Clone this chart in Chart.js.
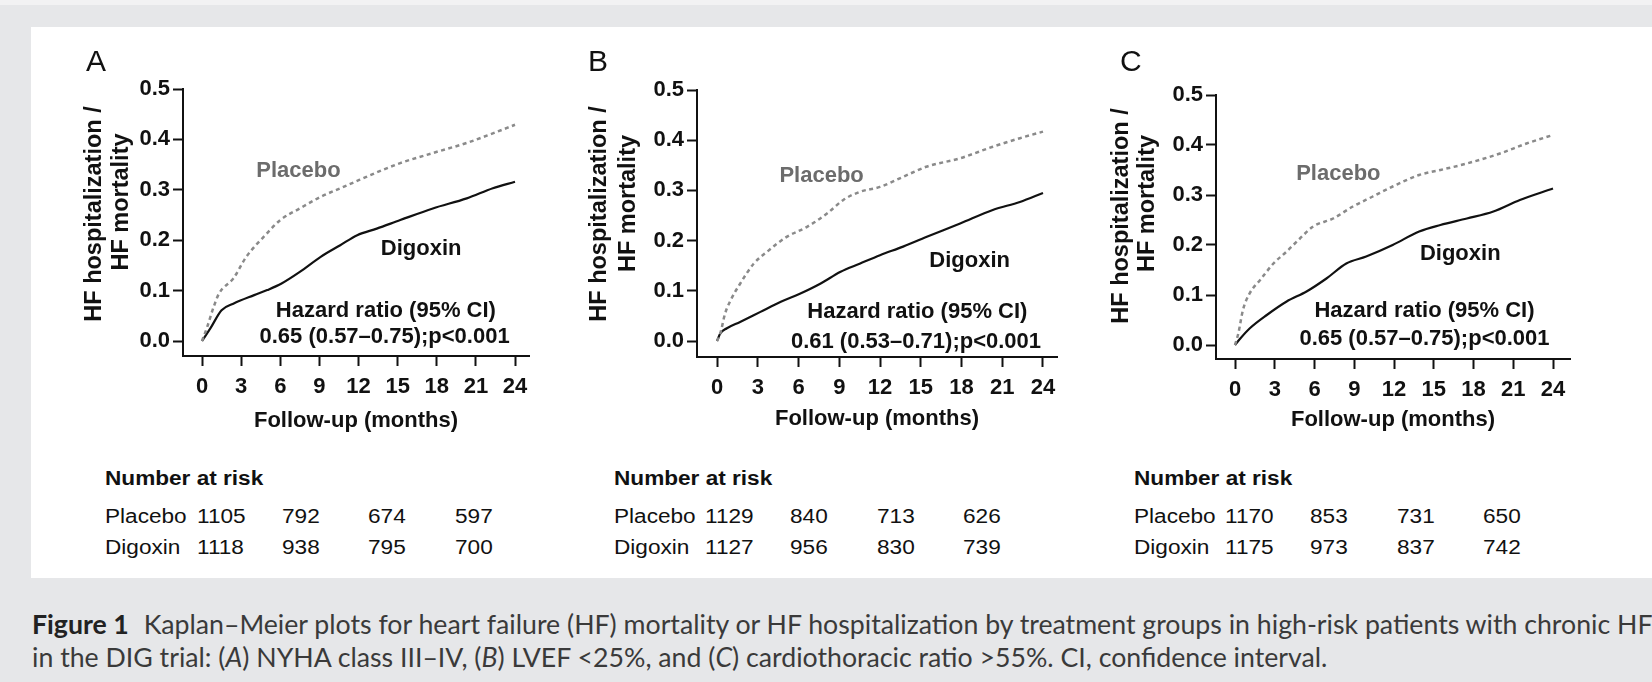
<!DOCTYPE html>
<html lang="en">
<head>
<meta charset="utf-8">
<title>DIG trial - Kaplan-Meier</title>
<script src="https://cdn.jsdelivr.net/npm/chart.js@4.4.1/dist/chart.umd.min.js"></script>
<style>
  html, body { margin: 0; padding: 0; }
  body { position: relative; width: 1652px; height: 682px; overflow: hidden; background: #e6e7e9; font-family: "Liberation Sans", Arial, sans-serif; }
  #strip { position: absolute; left: 0; top: 0; width: 1652px; height: 5px; background: #f2f2f3; }
  #panel { position: absolute; left: 31px; top: 27px; width: 1621px; height: 551px; background: #fff; }
  canvas { position: absolute; }
  .letter { position: absolute; font-size: 30px; line-height: 30px; color: #111; }
  .risk { position: absolute; font-size: 20px; line-height: 20px; color: #111; white-space: nowrap; transform: scaleX(1.13); transform-origin: 0 0; }
  .risk.head { font-weight: bold; }
  #caption { position: absolute; left: 32px; top: 608px; font-family: Lato, "Open Sans", sans-serif; font-size: 26.7px; line-height: 33px; color: #3a3a3a; white-space: nowrap; }
  #caption b { color: #222; margin-right: 8px; }
</style>
</head>
<body>
<div id="strip"></div>
<div id="panel"></div>
<canvas id="chartA"></canvas>
<canvas id="chartB"></canvas>
<canvas id="chartC"></canvas>
<div id="caption"><b>Figure 1</b> Kaplan–Meier plots for heart failure (HF) mortality or HF hospitalization by treatment groups in high-risk patients with chronic HF<br>in the DIG trial: (<i>A</i>) NYHA class III–IV, (<i>B</i>) LVEF &lt;25%, and (<i>C</i>) cardiothoracic ratio &gt;55%. CI, confidence interval.</div>
<script>
// ======================
// Datos
// ======================
const xTicks = [0, 3, 6, 9, 12, 15, 18, 21, 24];
const yTicks = [0, 0.1, 0.2, 0.3, 0.4, 0.5];

// Panel A: NYHA III-IV
const monthsPlaceboA = [0, 0.4, 0.9, 1.3, 2.4, 3.4, 5.0, 6.0, 7.5, 9.1, 10.6, 12.1, 13.9, 15.2, 17.7, 20.3, 22.3, 24];
const placeboA = [0, 0.028, 0.068, 0.094, 0.124, 0.167, 0.214, 0.240, 0.263, 0.286, 0.303, 0.320, 0.340, 0.353, 0.373, 0.393, 0.412, 0.429];
const monthsDigoxinA = [0, 0.64, 1.5, 2.4, 4.0, 5.0, 6.1, 7.5, 9.1, 10.6, 11.9, 13.4, 15.2, 17.7, 20.3, 22.3, 24];
const digoxinA = [0, 0.025, 0.061, 0.074, 0.091, 0.101, 0.114, 0.137, 0.167, 0.190, 0.210, 0.223, 0.240, 0.263, 0.283, 0.303, 0.316];

// Panel B: LVEF < 25%
const monthsPlaceboB = [0, 0.24, 0.6, 1.0, 1.7, 2.7, 3.7, 5.1, 6.6, 8.1, 9.3, 10.5, 12.0, 13.7, 15.4, 17.9, 20.3, 22.3, 24];
const placeboB = [0, 0.015, 0.055, 0.081, 0.114, 0.154, 0.178, 0.207, 0.227, 0.254, 0.281, 0.297, 0.307, 0.327, 0.347, 0.364, 0.387, 0.404, 0.417];
const monthsDigoxinB = [0, 0.24, 0.7, 1.7, 3.2, 4.7, 6.1, 7.6, 9.1, 10.5, 12.0, 13.7, 15.4, 17.9, 20.3, 22.3, 24];
const digoxinB = [0, 0.015, 0.025, 0.038, 0.058, 0.078, 0.094, 0.114, 0.138, 0.154, 0.171, 0.188, 0.207, 0.234, 0.261, 0.277, 0.295];

// Panel C: cardiothoracic ratio > 55%
const monthsPlaceboC = [0, 0.25, 0.6, 1.1, 1.9, 2.9, 3.9, 4.9, 5.9, 7.4, 8.9, 10.4, 11.9, 13.9, 15.5, 17.5, 20.0, 22.0, 24];
const placeboC = [0, 0.023, 0.07, 0.103, 0.13, 0.163, 0.187, 0.213, 0.237, 0.253, 0.277, 0.297, 0.317, 0.34, 0.35, 0.363, 0.383, 0.403, 0.42];
const monthsDigoxinC = [0, 0.4, 1.1, 2.4, 3.9, 5.4, 6.9, 8.4, 9.9, 11.9, 13.9, 15.5, 17.5, 19.5, 21.5, 24];
const digoxinC = [0, 0.013, 0.033, 0.06, 0.087, 0.107, 0.133, 0.163, 0.177, 0.20, 0.227, 0.24, 0.253, 0.267, 0.29, 0.313];

// Hazard ratios
const hrA = "0.65 (0.57–0.75);p<0.001";
const hrB = "0.61 (0.53–0.71);p<0.001";
const hrC = "0.65 (0.57–0.75);p<0.001";

// Number at risk
const riskPlaceboA = [1105, 792, 674, 597];
const riskDigoxinA = [1118, 938, 795, 700];
const riskPlaceboB = [1129, 840, 713, 626];
const riskDigoxinB = [1127, 956, 830, 739];
const riskPlaceboC = [1170, 853, 731, 650];
const riskDigoxinC = [1175, 973, 837, 742];

// ======================
// Geometría de cada panel (px de la página)
// ======================
const FONT = "'Liberation Sans', Arial, sans-serif";
const INK = "#111";
const GREY = "#8a8a8a";

const panels = [
  {
    id: "A", left: 81, top: 28, area: { l: 183, r: 529, t: 89, b: 356 }, p0: 202, p24: 515, y0: 341, xTitleMid: 421,
    yTitle: [["HF hospitalization /", 94.5, 214], ["HF mortality", 121.5, 202]],
    letter: [86, 46],
    risk: { cols: [105, 197, 282, 368, 455] },
    placebo: [monthsPlaceboA, placeboA], digoxin: [monthsDigoxinA, digoxinA],
    riskP: riskPlaceboA, riskD: riskDigoxinA,
    notes: [["Placebo", 7.4, 0.325, "#6c6c6c"], ["Digoxin", 16.8, 0.171, INK], ["Hazard ratio (95% CI)", 14.1, 0.048, INK], [hrA, 14.0, -0.004, INK]]
  },
  {
    id: "B", left: 587, top: 28, area: { l: 697, r: 1057, t: 90, b: 357 }, p0: 717, p24: 1043, y0: 341, xTitleMid: 418.5,
    yTitle: [["HF hospitalization /", 600, 214], ["HF mortality", 629, 203.5]],
    letter: [588, 46],
    risk: { cols: [614, 705, 790, 877, 963] },
    placebo: [monthsPlaceboB, placeboB], digoxin: [monthsDigoxinB, digoxinB],
    riskP: riskPlaceboB, riskD: riskDigoxinB,
    notes: [["Placebo", 7.7, 0.317, "#6c6c6c"], ["Digoxin", 18.6, 0.147, INK], ["Hazard ratio (95% CI)", 14.75, 0.045, INK], [hrB, 14.65, -0.013, INK]]
  },
  {
    id: "C", left: 1108, top: 28, area: { l: 1216, r: 1570, t: 95, b: 359 }, p0: 1235, p24: 1553, y0: 345, xTitleMid: 419.5,
    yTitle: [["HF hospitalization /", 1121.5, 216], ["HF mortality", 1147.5, 203.5]],
    letter: [1120, 46],
    risk: { cols: [1134, 1225, 1310, 1397, 1483] },
    placebo: [monthsPlaceboC, placeboC], digoxin: [monthsDigoxinC, digoxinC],
    riskP: riskPlaceboC, riskD: riskDigoxinC,
    notes: [["Placebo", 7.8, 0.33, "#6c6c6c"], ["Digoxin", 17.0, 0.17, INK], ["Hazard ratio (95% CI)", 14.3, 0.056, INK], [hrC, 14.3, 0.0, INK]]
  }
];

// Textos dentro del gráfico (etiquetas y título del eje y en dos líneas)
function textLayer(g) {
  return {
    id: "textLayer",
    afterDraw(chart) {
      const { ctx, scales: { x, y } } = chart;
      ctx.save();
      ctx.font = "bold 22px " + FONT;
      ctx.textAlign = "center";
      ctx.textBaseline = "alphabetic";
      g.notes.forEach(([text, m, v, color]) => {
        ctx.fillStyle = color;
        ctx.fillText(text, x.getPixelForValue(m), y.getPixelForValue(v));
      });
      ctx.font = "bold 23.5px " + FONT;
      ctx.textBaseline = "middle";
      ctx.fillStyle = INK;
      g.yTitle.forEach(([text, cx, cy]) => {
        ctx.save();
        ctx.translate(cx - g.left, cy - g.top);
        ctx.rotate(-Math.PI / 2);
        ctx.fillText(text, 0, 0);
        ctx.restore();
      });
      ctx.restore();
    }
  };
}

function addText(cls, text, x, y) {
  const el = document.createElement("div");
  el.className = cls;
  el.textContent = text;
  el.style.left = x + "px";
  el.style.top = y + "px";
  document.body.appendChild(el);
}

function buildPanel(g) {
  const canvas = document.getElementById("chart" + g.id);
  const w = g.area.r - g.left + 24;
  const h = Math.round(g.xTitleMid + 13 - g.top);
  canvas.width = w;
  canvas.height = h;
  canvas.style.left = g.left + "px";
  canvas.style.top = g.top + "px";

  const wy = g.area.l - g.left;
  const hx = g.top + h - g.area.b;
  const kx = (g.p24 - g.p0) / 24;
  const ky = (g.y0 - g.area.t) / 0.5;

  const pts = ([ms, vs]) => ms.map((m, i) => ({ x: m, y: vs[i] }));

  new Chart(canvas, {
    type: "line",
    data: {
      datasets: [
        { label: "Placebo", data: pts(g.placebo), borderColor: GREY, borderWidth: 2.5, borderDash: [4, 3.5], pointRadius: 0, cubicInterpolationMode: "monotone", fill: false },
        { label: "Digoxin", data: pts(g.digoxin), borderColor: INK, borderWidth: 2.2, pointRadius: 0, cubicInterpolationMode: "monotone", fill: false }
      ]
    },
    options: {
      responsive: false,
      devicePixelRatio: 1,
      animation: false,
      layout: { padding: { top: g.area.t - g.top, right: 24, left: 0, bottom: 0 } },
      plugins: { legend: { display: false }, tooltip: { enabled: false } },
      scales: {
        x: {
          type: "linear",
          min: -(g.p0 - g.area.l) / kx,
          max: 24 + (g.area.r - g.p24) / kx,
          afterBuildTicks: s => { s.ticks = xTicks.map(v => ({ value: v })); },
          afterFit: s => { s.height = hx; },
          grid: { drawOnChartArea: false, drawTicks: true, tickLength: 10, tickWidth: 2, tickColor: INK },
          border: { display: true, color: INK, width: 2 },
          ticks: { color: INK, font: { family: FONT, size: 22, weight: "bold" }, padding: 8, maxRotation: 0, autoSkip: false },
          title: { display: true, text: "Follow-up (months)", color: INK, font: { family: FONT, size: 22, weight: "bold", lineHeight: 1.2 }, padding: 0 }
        },
        y: {
          type: "linear",
          min: -(g.area.b - g.y0) / ky,
          max: 0.5,
          afterBuildTicks: s => { s.ticks = yTicks.map(v => ({ value: v })); },
          afterFit: s => { s.width = wy; },
          grid: { drawOnChartArea: false, drawTicks: true, tickLength: 10, tickWidth: 2, tickColor: INK },
          border: { display: true, color: INK, width: 2 },
          ticks: { color: INK, font: { family: FONT, size: 22, weight: "bold" }, padding: 3, callback: v => v.toFixed(1) }
        }
      }
    },
    plugins: [textLayer(g)]
  });

  // Letra del panel
  addText("letter", g.id, g.letter[0], g.letter[1]);

  // Tabla "Number at risk"
  const c = g.risk.cols;
  addText("risk head", "Number at risk", c[0], 485 - 17);
  addText("risk", "Placebo", c[0], 523 - 17);
  addText("risk", "Digoxin", c[0], 554 - 17);
  g.riskP.forEach((n, i) => addText("risk", String(n), c[i + 1], 523 - 17));
  g.riskD.forEach((n, i) => addText("risk", String(n), c[i + 1], 554 - 17));
}

panels.forEach(buildPanel);
</script>
</body>
</html>
